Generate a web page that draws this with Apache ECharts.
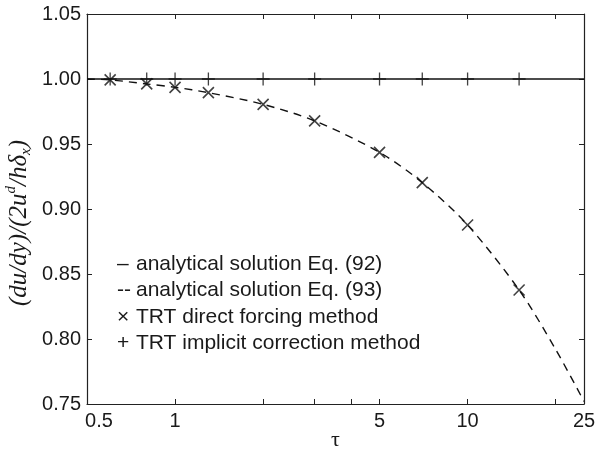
<!DOCTYPE html>
<html>
<head>
<meta charset="utf-8">
<script src="https://cdn.jsdelivr.net/npm/echarts@6/dist/echarts.min.js"></script>
<style>
html,body{margin:0;padding:0;background:#fff;}
#c{width:598px;height:449px;}
</style>
</head>
<body>
<div id="c"></div>
<script>
// ---- data ----
var seriesNames = ['analytical solution Eq. (92)', 'analytical solution Eq. (93)', 'TRT direct forcing method', 'TRT implicit correction method'];
var legendSymbols = ['\u2013', '--', '\u00d7', '+'];
var tauCurve = [0.5, 0.6, 0.8, 1, 1.3, 2, 3, 5, 7, 10, 15, 20, 25];
var eq93Vals = [1.0, 0.9993, 0.9962, 0.9936, 0.9895, 0.9805, 0.9678, 0.9436, 0.9203, 0.8877, 0.8377, 0.792, 0.752];
var tauLine = [0.5, 25];
var eq92Vals = [1.0, 1.0];
var tauSim = [0.6, 0.8, 1, 1.3, 2, 3, 5, 7, 10, 15];
var directVals = [0.9993, 0.9962, 0.9936, 0.9895, 0.9805, 0.9678, 0.9436, 0.9203, 0.8877, 0.8377];
var implicitVals = [1.0, 1.0, 1.0, 1.0, 1.0, 1.0, 1.0, 1.0, 1.0, 1.0];
var xLabelValues = [0.5, 1, 5, 10, 25];
var xTickValues = [1, 2, 3, 4, 5, 10, 20];
var yTicks = [0.75, 0.80, 0.85, 0.90, 0.95, 1.00, 1.05];

function pairs(xs, ys) { return xs.map(function (x, i) { return [x, ys[i]]; }); }

var txt = '#1a1a1a';
var font = 'Liberation Sans, Arial, sans-serif';
var chart = echarts.init(document.getElementById('c'), null, {renderer: 'canvas'});

var crossPath = 'path://M0,0L10,10M10,0L0,10';
var plusPath = 'path://M5,0L5,10M0,5L10,5';

var option = {
  animation: false,
  backgroundColor: '#fff',
  grid: {left: 87, right: 14, top: 14, bottom: 45, containLabel: false, outerBoundsMode: 'none'},
  legend: {
    orient: 'vertical',
    left: 107,
    top: 249,
    itemGap: 5.2,
    itemWidth: 0,
    itemHeight: 10,
    icon: 'none',
    selectedMode: false,
    data: seriesNames.map(function (n) { return {name: n, icon: 'none'}; }),
    formatter: function (name) {
      var i = seriesNames.indexOf(name);
      return '{s|' + legendSymbols[i] + '}{t|' + name + '}';
    },
    textStyle: {
      color: txt, fontFamily: font, fontSize: 21, lineHeight: 21,
      rich: {
        s: {width: 19, align: 'left', fontSize: 21, fontFamily: font, color: txt},
        t: {fontSize: 21, fontFamily: font, color: txt}
      }
    }
  },
  xAxis: [{
    type: 'log', logBase: 10, min: 0.5, max: 25,
    name: '\u03c4', nameLocation: 'middle', nameGap: 25, nameMoveOverlap: false,
    nameTextStyle: {fontFamily: 'Liberation Serif, serif', fontSize: 22, color: txt},
    axisLine: {show: true, lineStyle: {color: '#222', width: 1.2}},
    axisTick: {show: true, inside: true, length: 5, lineStyle: {color: '#222', width: 1}, customValues: xTickValues},
    axisLabel: {
      show: true, margin: 7, color: txt, fontFamily: font, fontSize: 20,
      customValues: xLabelValues,
      formatter: function (v) {
        var s = String(Math.round(v * 10) / 10);
        return s === '0.5' ? '{m|0.5}' : s;
      },
      rich: {m: {padding: [0, 0, 0, 24], fontFamily: font, fontSize: 20, color: txt}}
    },
    splitLine: {show: false}, minorTick: {show: false}
  }, {
    type: 'log', logBase: 10, min: 0.5, max: 25, position: 'top',
    axisLine: {show: true, onZero: false, lineStyle: {color: '#222', width: 1.2}},
    axisTick: {show: true, inside: true, length: 5, lineStyle: {color: '#222', width: 1}, customValues: xTickValues},
    axisLabel: {show: false},
    splitLine: {show: false}
  }],
  yAxis: [{
    type: 'value', min: 0.75, max: 1.05, interval: 0.05,
    name: '{i|(du/dy)/(2u}{sup|d}{i|/h\u03b4}{sub|x}{i|)}{g|}',
    nameLocation: 'middle', nameGap: 53, nameRotate: 90, nameMoveOverlap: false,
    nameTextStyle: {
      rich: {
        i: {fontFamily: 'Liberation Serif, serif', fontStyle: 'italic', fontSize: 25, color: txt, lineHeight: 30, verticalAlign: 'middle'},
        sup: {fontFamily: 'Liberation Serif, serif', fontStyle: 'italic', fontSize: 15, color: txt, lineHeight: 30, verticalAlign: 'top'},
        sub: {fontFamily: 'Liberation Serif, serif', fontStyle: 'italic', fontSize: 15, color: txt, lineHeight: 30, verticalAlign: 'bottom'},
        g: {width: 28, lineHeight: 30}
      }
    },
    axisLine: {show: true, lineStyle: {color: '#222', width: 1.2}},
    axisTick: {show: true, inside: true, length: 5, lineStyle: {color: '#222', width: 1}},
    axisLabel: {
      show: true, margin: 6, color: txt, fontFamily: font, fontSize: 20,
      formatter: function (v) { return v.toFixed(2); }
    },
    splitLine: {show: false}
  }, {
    type: 'value', min: 0.75, max: 1.05, interval: 0.05, position: 'right',
    axisLine: {show: true, onZero: false, lineStyle: {color: '#222', width: 1.2}},
    axisTick: {show: true, inside: true, length: 5, lineStyle: {color: '#222', width: 1}},
    axisLabel: {show: false},
    splitLine: {show: false}
  }],
  series: [{
    name: seriesNames[0], type: 'line', xAxisIndex: 0, yAxisIndex: 0,
    data: pairs(tauLine, eq92Vals), symbol: 'none',
    lineStyle: {color: '#111', width: 1.4, type: 'solid'}, z: 2
  }, {
    name: seriesNames[1], type: 'line', xAxisIndex: 0, yAxisIndex: 0,
    data: pairs(tauCurve, eq93Vals), symbol: 'none', smooth: 0.3,
    lineStyle: {color: '#111', width: 1.4, type: [8, 6]}, z: 2
  }, {
    name: seriesNames[2], type: 'scatter', xAxisIndex: 0, yAxisIndex: 0,
    data: pairs(tauSim, directVals), symbol: crossPath, symbolSize: 11,
    itemStyle: {color: 'none', borderColor: '#111', borderWidth: 1.6}, z: 3
  }, {
    name: seriesNames[3], type: 'scatter', xAxisIndex: 0, yAxisIndex: 0,
    data: pairs(tauSim, implicitVals), symbol: plusPath, symbolSize: 13,
    itemStyle: {color: 'none', borderColor: '#111', borderWidth: 1.3}, z: 3
  }]
};
chart.setOption(option);
</script>
</body>
</html>
